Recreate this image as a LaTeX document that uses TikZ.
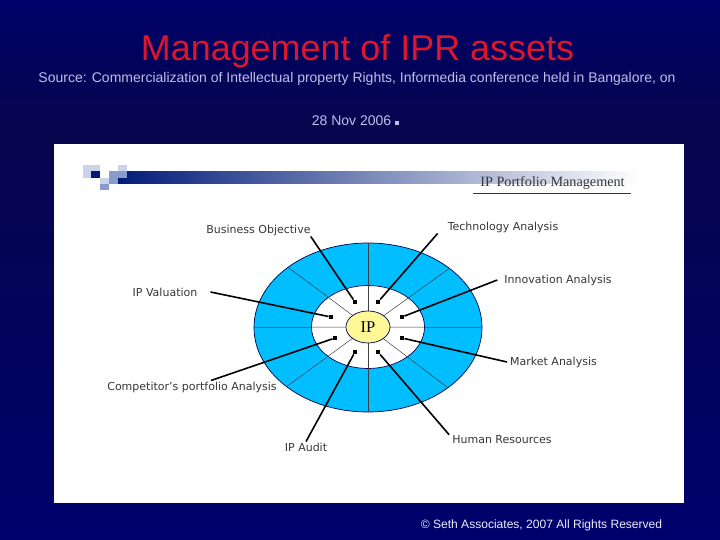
\documentclass[tikz,border=0pt]{standalone}
\usepackage{fontspec}
\setmainfont{Liberation Sans}
\newfontfamily\tagfont{DejaVu Sans}
\newfontfamily\headfont{Liberation Serif}
\usepackage{tikz}
\usetikzlibrary{shapes.geometric,calc}
\usepackage{xcolor}
\definecolor{slidetop}{RGB}{0,0,104}
\definecolor{slidemid}{RGB}{6,6,78}
\definecolor{slidelow}{RGB}{0,0,108}
\definecolor{titlered}{RGB}{222,22,44}
\definecolor{sourcetint}{RGB}{190,190,232}
\definecolor{ringblue}{RGB}{0,190,255}
\definecolor{hubyellow}{RGB}{255,248,150}
\definecolor{barnavy}{RGB}{0,28,120}
\definecolor{paleblock}{RGB}{205,210,235}
\definecolor{midblock}{RGB}{135,155,205}
\definecolor{tagtext}{RGB}{55,55,55}
\tikzset{
  disc/.style={ellipse, draw=black!70!blue, line width=0.7pt, inner sep=0pt, outer sep=0pt},
  spoke/.style={draw=black!75, line width=0.5pt},
  tag/.style={font=\tagfont\fontsize{11}{13}\selectfont, text=tagtext, inner ysep=1pt, inner xsep=0pt},
  endmark/.style={rectangle, fill=black, inner sep=0pt, minimum size=4.5pt},
  leader/.style={line width=1.6pt, black},
}
\begin{document}
\begin{tikzpicture}[x=1pt,y=-1pt]
\useasboundingbox (0,0) rectangle (720,540);
% slide
\fill[top color=slidetop, bottom color=slidemid] (0,0) rectangle (720,130);
\fill[top color=slidemid, bottom color=slidelow] (0,130) rectangle (720,540);
\fill[white] (54,144) rectangle (684,503);
\node[text=titlered, font=\fontsize{35.9}{38}\selectfont] (title) at (357.5,51) {Management of IPR assets};
\node[text=sourcetint, font=\fontsize{14}{16}\selectfont] (source) at (357,79) {Source: Commercialization of Intellectual property Rights, Informedia conference held in Bangalore, on};
\node[text=sourcetint, font=\fontsize{14}{16}\selectfont] (sourcedate) at (351.5,121) {28 Nov 2006};
\node[rectangle, fill=sourcetint, inner sep=0pt, minimum size=4pt] (datemark) at (397,123) {};
\node[text=white!92!blue, font=\fontsize{12.05}{14}\selectfont] (credit) at (541.5,525) {© Seth Associates, 2007 All Rights Reserved};
% header strip
\fill[left color=barnavy, right color=white] (117,171.5) rectangle (640,184);
\fill[paleblock] (82.5,165) rectangle (100,178);
\fill[barnavy] (91,171.5) rectangle (100,178);
\fill[paleblock] (100,178) rectangle (117,184);
\fill[midblock] (100,184) rectangle (109,190.5);
\fill[midblock] (109,171.5) rectangle (118,184);
\fill[paleblock] (118,165) rectangle (127,171.5);
\fill[midblock] (118,171.5) rectangle (127,178);
\node[font=\headfont\fontsize{14.2}{16}\selectfont, text=tagtext] (headline) at (552.5,183) {IP Portfolio Management};
\draw[tagtext, line width=0.7pt] (473,193) -- (631,193);
% rings
\node[disc, fill=ringblue, minimum width=228pt, minimum height=169pt] (ring) at (368,327.5) {};
\node[disc, fill=white, minimum width=113pt, minimum height=83pt] (core) at (368,327) {};
\foreach \ang in {0,36.5,90,143.5,180,216.5,270,323.5}
  \draw[spoke] (368,327) -- (ring.\ang);
\node[disc, fill=hubyellow, minimum width=44pt, minimum height=32pt, font=\headfont\fontsize{16.5}{18}\selectfont] (hub) at (368,327) {IP};
% labels
\node[tag] (bizobj) at (258.5,230) {Business Objective};
\node[tag, inner xsep=10pt] (techan) at (503,227) {Technology Analysis};
\node[tag, inner xsep=13pt] (ipval) at (165,292) {IP Valuation};
\node[tag, inner xsep=7pt] (innov) at (558,280) {Innovation Analysis};
\node[tag, inner xsep=3pt] (market) at (553.5,362) {Market Analysis};
\node[tag] (compet) at (192,387) {Competitor’s portfolio Analysis};
\node[tag] (ipaudit) at (306,447) {IP Audit};
\node[tag, inner xsep=3pt] (human) at (502,440) {Human Resources};
\coordinate (competend) at ($(compet.north)+(19,0)$);
% end marks
\node[endmark] (m1) at (355,302) {};
\node[endmark] (m2) at (378,302) {};
\node[endmark] (m3) at (331,317) {};
\node[endmark] (m4) at (402,317) {};
\node[endmark] (m5) at (335,338) {};
\node[endmark] (m6) at (402,338) {};
\node[endmark] (m7) at (355,352) {};
\node[endmark] (m8) at (378,352) {};
\foreach \a/\b in {bizobj.south east/m1, techan.south west/m2, ipval.east/m3, innov.west/m4,
                   competend/m5, market.west/m6, ipaudit.north/m7, human.north west/m8}
  \draw[leader] (\a) -- (\b);
\end{tikzpicture}
\end{document}
